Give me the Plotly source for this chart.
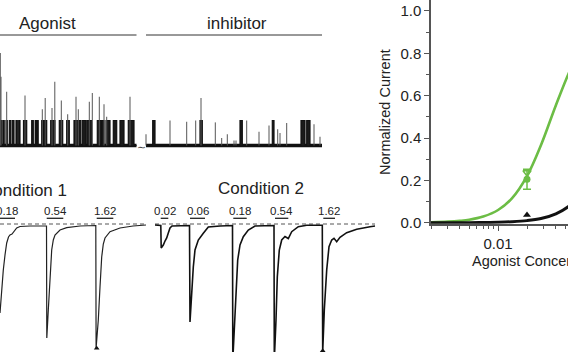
import plotly.graph_objects as go

FONT = "Liberation Sans, Arial, Helvetica, sans-serif"
W, H = 568, 352

# ---------------- single-channel recording (top left) ----------------
# time in recording units, current in pA (unitary opening ~2 pA)
unit_pA = 2.0
agonist_segment = [0.0, 136.5]
inhibitor_segment = [146.0, 322.0]
agonist_open_start = [0.0, 3.0, 6.0, 9.3, 12.3, 16.0, 18.7, 23.5, 31.7, 35.2, 37.2, 41.7,
                      44.5, 50.7, 59.3, 66.7, 74.0, 79.3, 82.3, 87.3, 97.3, 101.7, 106.0,
                      113.3, 120.0, 128.3]
agonist_open_end = [1.6, 4.2, 7.3, 10.7, 14.0, 17.3, 20.0, 26.7, 33.3, 36.0, 38.2, 43.5,
                    46.7, 55.0, 62.7, 69.3, 78.3, 80.7, 86.0, 91.7, 100.7, 104.0, 110.0,
                    116.7, 124.0, 134.0]
agonist_spike_t = [0.3, 1.0, 6.7, 25.0, 42.3, 45.2, 52.0, 54.8, 61.3, 67.7, 76.0, 78.3,
                   89.3, 92.3, 99.3, 104.0, 106.7, 130.0]
agonist_spike_pA = [7.4, 5.5, 4.3, 4.0, 2.9, 3.8, 3.0, 5.1, 3.6, 2.5, 3.9, 2.9,
                    3.5, 4.2, 3.9, 3.3, 2.3, 3.9]
inhibitor_open_start = [152.7, 200.0, 240.0, 272.3, 301.0, 306.7]
inhibitor_open_end = [155.0, 202.3, 242.3, 274.0, 305.0, 310.0]
inhibitor_spike_t = [146.0, 170.0, 186.7, 195.7, 201.0, 215.3, 221.7, 227.3, 234.0, 236.0,
                     246.7, 259.0, 269.0, 277.7, 280.0, 286.7, 314.0, 320.0]
inhibitor_spike_pA = [0.9, 2.0, 1.9, 2.0, 3.8, 1.85, 0.6, 0.9, 0.4, 0.4,
                      2.0, 1.1, 1.6, 1.3, 1.0, 1.8, 1.7, 0.7]

# ---------------- macroscopic currents (bottom left) ----------------
# time (s) and current (nA)
cond1_t = [0.0, 1.5, 3.3, 5.0, 6.7, 8.5, 10.0, 12.0, 13.3, 15.0, 16.7, 20.0, 30.0, 46.5,
           46.8, 48.3, 50.0, 51.7, 53.3, 55.0, 60.0, 66.7, 80.0, 95.8,
           96.1, 98.3, 100.0, 101.7, 103.3, 105.0, 110.0, 120.0, 133.0, 146.0]
cond1_I = [-0.88, -0.65, -0.45, -0.30, -0.18, -0.12, -0.10, -0.09, -0.07, -0.045, -0.03,
           -0.015, -0.01, -0.01,
           -1.13, -0.85, -0.52, -0.25, -0.15, -0.10, -0.05, -0.027, -0.01, -0.005,
           -1.23, -0.95, -0.62, -0.32, -0.19, -0.13, -0.067, -0.03, -0.01, 0.0]
cond2_t = [155.0, 160.8, 161.2, 163.3, 165.0, 166.7, 168.3, 170.0, 172.0, 189.5,
           190.0, 191.7, 193.3, 195.0, 198.3, 203.3, 208.3, 220.0, 232.5,
           232.8, 234.3, 236.0, 237.7, 240.0, 243.3, 248.3, 255.0, 274.0,
           274.3, 276.0, 277.3, 279.3, 281.7, 285.0, 288.3, 291.7, 298.3, 306.7, 322.3,
           322.7, 324.3, 326.7, 329.0, 331.7, 334.0, 336.7, 340.0, 346.7, 356.7, 370.0, 375.0]
cond2_I = [0.0, -0.005, -0.23, -0.20, -0.16, -0.13, -0.08, -0.03, -0.01, -0.005,
           -0.97, -0.68, -0.42, -0.25, -0.15, -0.083, -0.02, -0.01, -0.005,
           -1.35, -1.02, -0.62, -0.35, -0.20, -0.117, -0.05, -0.01, -0.005,
           -1.35, -0.95, -0.52, -0.25, -0.15, -0.115, -0.135, -0.067, -0.017, -0.003, -0.003,
           -1.27, -0.85, -0.45, -0.217, -0.15, -0.133, -0.167, -0.123, -0.077, -0.043,
           -0.017, -0.01]
cond1_span = [0.0, 146.0]
cond2_span = [155.0, 375.0]
conc_labels = ["0.18", "0.54", "1.62", "0.02", "0.06", "0.18", "0.54", "1.62"]
app_start = [-2.0, 46.7, 96.7, 160.7, 190.0, 233.3, 275.0, 323.3]
app_end = [15.0, 63.3, 113.3, 168.3, 205.0, 246.7, 288.3, 335.0]
peak_mark_t = [96.7, 322.7]
peak_mark_I = [-1.232, -1.257]

# ---------------- dose-response (right) ----------------
fit_conc = [0.002, 0.003, 0.004, 0.005, 0.007, 0.01, 0.014, 0.02, 0.028, 0.04, 0.055, 0.07]
fit_green = [0.002, 0.005, 0.009, 0.014, 0.029, 0.06, 0.116, 0.22, 0.367, 0.555, 0.711, 0.805]
fit_black = [0.0, 0.0, 0.0, 0.0001, 0.001, 0.0022, 0.0046, 0.0098, 0.0199, 0.042, 0.079, 0.126]
pt_conc = [0.02]
pt_green_circle = [0.205]
pt_green_circle_err = [0.047]
pt_green_tri = [0.237]
pt_black_tri = [0.036]
y_ticks = [0.0, 0.2, 0.4, 0.6, 0.8, 1.0]

GREEN = "#6cbd45"

fig = go.Figure()


def step_trace(seg, starts, ends):
    xs, ys = [seg[0]], [0.0]
    for s, e in zip(starts, ends):
        xs += [s, s, e, e]
        ys += [0.0, unit_pA, unit_pA, 0.0]
    xs.append(seg[1])
    ys.append(0.0)
    return xs, ys


# baseline noise band
fig.add_trace(go.Scatter(x=[agonist_segment[0], agonist_segment[1], None,
                            inhibitor_segment[0], inhibitor_segment[1]],
                         y=[0, 0, None, 0, 0], mode="lines",
                         line=dict(color="#111", width=3.5),
                         xaxis="x2", yaxis="y2", hoverinfo="skip"))
for seg, st, en in [(agonist_segment, agonist_open_start, agonist_open_end),
                    (inhibitor_segment, inhibitor_open_start, inhibitor_open_end)]:
    xs, ys = step_trace(seg, st, en)
    fig.add_trace(go.Scatter(x=xs, y=ys, mode="lines", fill="tozeroy",
                             fillcolor="#1a1a1a",
                             line=dict(color="#111", width=1.2),
                             xaxis="x2", yaxis="y2", hoverinfo="skip"))
sx, sy = [], []
for t, a in zip(agonist_spike_t + inhibitor_spike_t, agonist_spike_pA + inhibitor_spike_pA):
    sx += [t, t, None]
    sy += [0.0, a, None]
fig.add_trace(go.Scatter(x=sx, y=sy, mode="lines", line=dict(color="#555", width=1),
                         xaxis="x2", yaxis="y2", hoverinfo="skip"))

# application bars on top
fig.add_trace(go.Scatter(x=[agonist_segment[0], agonist_segment[1], None,
                            inhibitor_segment[0], inhibitor_segment[1]],
                         y=[8.84, 8.84, None, 8.84, 8.84], mode="lines",
                         line=dict(color="#333", width=1),
                         xaxis="x2", yaxis="y2", hoverinfo="skip"))

# macroscopic currents
fig.add_trace(go.Scatter(x=[cond1_span[0], cond1_span[1], None, cond2_span[0], cond2_span[1]],
                         y=[0.01, 0.01, None, 0.01, 0.01], mode="lines",
                         line=dict(color="#555", width=1, dash="4px,3px"),
                         xaxis="x3", yaxis="y3", hoverinfo="skip"))
fig.add_trace(go.Scatter(x=cond1_t, y=cond1_I,
                         mode="lines", line=dict(color="#222", width=1.2),
                         xaxis="x3", yaxis="y3", hoverinfo="skip"))
fig.add_trace(go.Scatter(x=cond2_t, y=cond2_I,
                         mode="lines", line=dict(color="#111", width=1.6),
                         xaxis="x3", yaxis="y3", hoverinfo="skip"))
bx, by = [], []
for s, e in zip(app_start, app_end):
    bx += [s, e, None]
    by += [0.067, 0.067, None]
fig.add_trace(go.Scatter(x=bx, y=by, mode="lines", line=dict(color="#222", width=1.3),
                         xaxis="x3", yaxis="y3", hoverinfo="skip"))
fig.add_trace(go.Scatter(x=peak_mark_t, y=peak_mark_I, mode="markers",
                         marker=dict(symbol="triangle-up", size=5, color="#111"),
                         xaxis="x3", yaxis="y3", hoverinfo="skip"))

# dose-response
fig.add_trace(go.Scatter(x=fit_conc, y=fit_green, mode="lines", line_shape="spline",
                         line=dict(color=GREEN, width=2.6), xaxis="x", yaxis="y"))
fig.add_trace(go.Scatter(x=fit_conc, y=fit_black, mode="lines", line_shape="spline",
                         line=dict(color="#111", width=3), xaxis="x", yaxis="y"))
fig.add_trace(go.Scatter(x=pt_conc, y=pt_green_circle, mode="markers",
                         marker=dict(symbol="circle", size=7, color=GREEN),
                         error_y=dict(type="data", array=pt_green_circle_err, color=GREEN,
                                      thickness=1.5, width=4),
                         xaxis="x", yaxis="y"))
fig.add_trace(go.Scatter(x=pt_conc, y=pt_green_tri, mode="markers",
                         marker=dict(symbol="triangle-down-open", size=7, color=GREEN,
                                     line=dict(width=1.5)),
                         xaxis="x", yaxis="y"))
fig.add_trace(go.Scatter(x=pt_conc, y=pt_black_tri, mode="markers",
                         marker=dict(symbol="triangle-up", size=7, color="#111"),
                         xaxis="x", yaxis="y"))

annotations = [
    dict(text="Agonist", x=47.5, y=9.8, xref="x2", yref="y2", showarrow=False,
         font=dict(size=17, color="#222", family=FONT)),
    dict(text="inhibitor", x=236.5, y=9.8, xref="x2", yref="y2", showarrow=False,
         font=dict(size=17, color="#222", family=FONT)),
    dict(text="∼", x=141, y=-0.1, xref="x2", yref="y2", showarrow=False,
         font=dict(size=11, color="#444", family=FONT)),
    dict(text="Condition 1", x=24, y=0.35, xref="x3", yref="y3", showarrow=False,
         font=dict(size=17, color="#222", family=FONT)),
    dict(text="Condition 2", x=261, y=0.365, xref="x3", yref="y3", showarrow=False,
         font=dict(size=17, color="#222", family=FONT)),
    dict(text="Agonist Concentration (µM)", x=469.5 / W, y=(H - 261) / H, xref="paper",
         yref="paper", xanchor="left", yanchor="middle", showarrow=False,
         font=dict(size=14.5, color="#222", family=FONT)),
]
for lab, s, e in zip(conc_labels, app_start, app_end):
    annotations.append(dict(text=lab, x=(s + e) / 2, y=0.14, xref="x3", yref="y3",
                            showarrow=False, font=dict(size=11.5, color="#222", family=FONT)))

hidden = dict(visible=False, showgrid=False, zeroline=False, fixedrange=True,
              automargin=False)
fig.update_layout(
    width=W, height=H, autosize=False, margin=dict(l=0, r=0, t=0, b=0, pad=0, autoexpand=False),
    paper_bgcolor="white", plot_bgcolor="rgba(0,0,0,0)", showlegend=False,
    font=dict(family=FONT, color="#222"),
    annotations=annotations,
    xaxis=dict(type="log", domain=[431 / W, 1.0], range=[-2.69897, -1.2719],
               automargin=False,
               showline=True, linecolor="#555", linewidth=1.5, showgrid=False, zeroline=False,
               ticks="outside", ticklen=5, tickwidth=1.2, tickcolor="#555",
               tickvals=[0.01], ticktext=["0.01"], tickfont=dict(size=15, color="#222"),
               minor=dict(tickvals=[0.002, 0.003, 0.004, 0.005, 0.006, 0.007, 0.008, 0.009,
                                    0.02, 0.03, 0.04, 0.05],
                          ticks="outside", ticklen=3, tickcolor="#555", showgrid=False),
               anchor="y"),
    yaxis=dict(domain=[(H - 223.76) / H, (H - 0.4) / H], range=[-0.005, 1.05],
               automargin=False,
               showline=True, linecolor="#555", linewidth=1.5, showgrid=False, zeroline=False,
               ticks="outside", ticklen=5, tickwidth=1.2, tickcolor="#555",
               tickvals=y_ticks, ticktext=["%.1f" % v for v in y_ticks],
               tickfont=dict(size=15, color="#222"),
               minor=dict(tickvals=[0.1, 0.3, 0.5, 0.7, 0.9], ticks="outside", ticklen=3,
                          tickcolor="#555", showgrid=False),
               title=dict(text="Normalized Current", font=dict(size=14.5, color="#222"),
                          standoff=6),
               anchor="x"),
    xaxis2=dict(domain=[0, 1], range=[0, W], anchor="y2", **hidden),
    yaxis2=dict(domain=[0, 1], range=[-16.52, 11.64], anchor="x2", **hidden),
    xaxis3=dict(domain=[0, 1], range=[0, W], anchor="y3", **hidden),
    yaxis3=dict(domain=[0, 1], range=[-1.27, 2.25], anchor="x3", **hidden),
)

fig.write_html("out.html")
